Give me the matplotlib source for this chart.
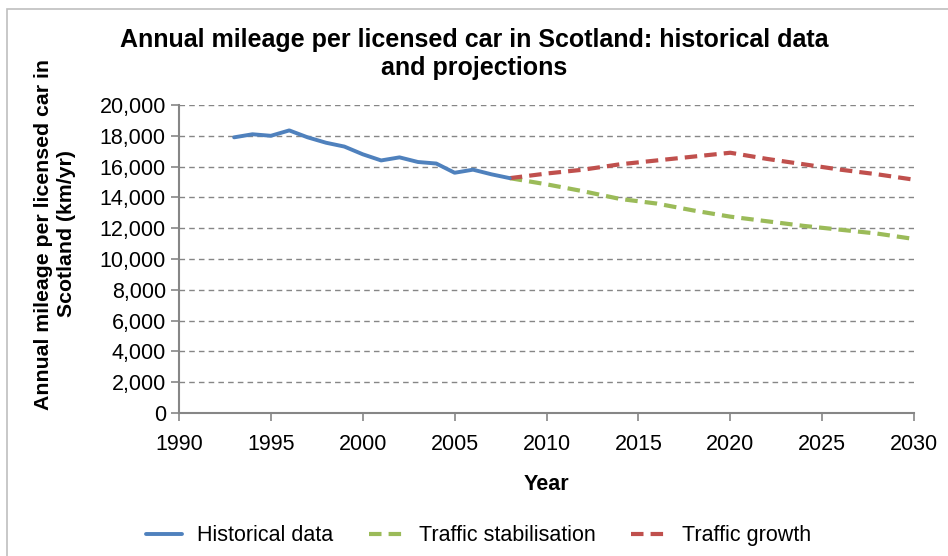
import matplotlib.pyplot as plt
from matplotlib.patches import Rectangle
from matplotlib.ticker import FuncFormatter

plt.rcParams['font.family'] = ['Liberation Sans', 'DejaVu Sans']

# historical data (km/yr)
hist_years = [1993, 1994, 1995, 1996, 1997, 1998, 1999, 2000, 2001, 2002,
              2003, 2004, 2005, 2006, 2007, 2008]
hist_vals = [17900, 18100, 18000, 18350, 17900, 17550, 17300, 16800, 16400,
             16600, 16300, 16200, 15600, 15800, 15500, 15250]

# projections
proj_years = [2008, 2010, 2012, 2014, 2016, 2018, 2020, 2022, 2024, 2026,
              2028, 2030]
stab_vals = [15250, 14850, 14400, 13900, 13600, 13150, 12750, 12450, 12150,
             11900, 11650, 11300]
growth_vals = [15250, 15550, 15800, 16150, 16400, 16650, 16900, 16500, 16150,
               15800, 15500, 15150]

blue = '#4F81BD'
green = '#9BBB59'
red = '#C0504D'
grey = '#868686'

fig = plt.figure(figsize=(9.48, 5.56), dpi=100)
fig.patches.append(Rectangle((7 / 948, -0.05), 1.1, 1 - 9 / 556 + 0.05,
                             transform=fig.transFigure, fill=False,
                             edgecolor='#BFBFBF', linewidth=1.2))

ax = fig.add_axes([179 / 948, 1 - 413 / 556, (914 - 179) / 948, (413 - 105) / 556])

ax.plot(hist_years, hist_vals, color=blue, linewidth=2.8,
        solid_capstyle='round', label='Historical data', zorder=4)
ax.plot(proj_years, stab_vals, color=green, linewidth=3, dashes=(3, 1.7),
        label='Traffic stabilisation', zorder=3)
ax.plot(proj_years, growth_vals, color=red, linewidth=3, dashes=(3, 1.7),
        label='Traffic growth', zorder=3)

ax.set_xlim(1990, 2030)
ax.set_ylim(0, 20000)
ax.set_xticks(range(1990, 2031, 5))
ax.set_yticks(range(0, 20001, 2000))
ax.yaxis.set_major_formatter(FuncFormatter(lambda v, p: f'{int(v):,}'))

ax.grid(axis='y', linestyle=(0, (4, 3)), color=grey, linewidth=1)
ax.set_axisbelow(True)
for s in ['top', 'right']:
    ax.spines[s].set_visible(False)
for s in ['left', 'bottom']:
    ax.spines[s].set_color(grey)
    ax.spines[s].set_linewidth(1.5)
ax.tick_params(axis='both', colors=grey, labelcolor='black', labelsize=15.5,
               length=6, width=1.2)
ax.tick_params(axis='x', pad=9)

ax.set_xlabel('Year', fontsize=15.5, fontweight='bold', labelpad=14)

# y label sits a bit above the axes centre, as in the original
fig.text(55 / 948, 1 - 234 / 556,
         'Annual mileage per licensed car in\nScotland (km/yr)',
         rotation=90, ha='center', va='center', fontsize=15.3,
         fontweight='bold', linespacing=1.2)

fig.text(0.5, 1 - 54 / 556,
         'Annual mileage per licensed car in Scotland: historical data\nand projections',
         ha='center', va='center', fontsize=18, fontweight='bold',
         linespacing=1.18)

fig.legend(loc='center', bbox_to_anchor=(0.505, 0.036), ncol=3,
           frameon=False, fontsize=15.5, handlelength=1.65, columnspacing=1.65,
           handletextpad=0.7)

fig.savefig('out.png', dpi=100)
